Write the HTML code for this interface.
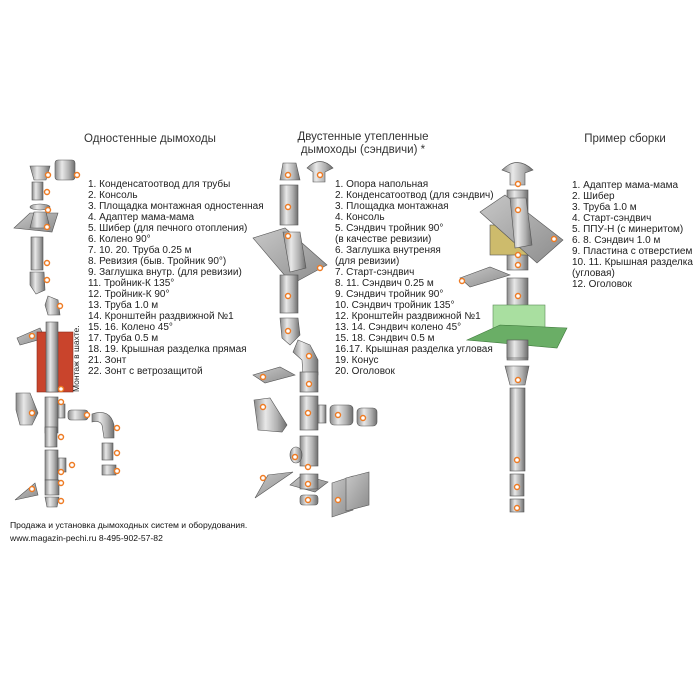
<!DOCTYPE html>
<html><head><meta charset="utf-8"><style>
html,body{margin:0;padding:0;background:#fff;width:700px;height:700px;overflow:hidden}
svg{display:block}
text{font-family:"Liberation Sans","DejaVu Sans",sans-serif;fill:#222}
.l{font-size:10px}
.h{font-size:11.5px;fill:#333}
.f{font-size:8.6px;fill:#111}
</style></head><body>
<svg width="700" height="700" viewBox="0 0 700 700" xmlns="http://www.w3.org/2000/svg">
<defs>
<linearGradient id="m" x1="0" x2="1" y1="0" y2="0">
<stop offset="0" stop-color="#8a8a8a"/><stop offset="0.35" stop-color="#e8e8e8"/><stop offset="0.7" stop-color="#b0b0b0"/><stop offset="1" stop-color="#6e6e6e"/></linearGradient>
<linearGradient id="p" x1="0" x2="1" y1="0" y2="1">
<stop offset="0" stop-color="#c8c8c8"/><stop offset="1" stop-color="#8c8c8c"/></linearGradient>
</defs>
<g stroke="#555" stroke-width="0.6">
<path d="M30 166 L50 166 L46 180 L34 180Z" fill="url(#m)"/>
<rect x="55" y="160" width="20" height="20" rx="3" fill="url(#m)"/>
<rect x="32" y="182" width="11" height="18" fill="url(#m)"/>
<ellipse cx="40" cy="207" rx="10" ry="3" fill="url(#m)"/>
<polygon points="14,228 30,213 58,213 52,232" fill="url(#p)"/>
<path d="M34 212 L46 212 L50 228 L30 228Z" fill="url(#m)"/>
<rect x="31" y="237" width="12" height="33" fill="url(#m)"/>
<path d="M30 272 L44 272 L45 290 L36 294 L30 285Z" fill="url(#m)"/>
<path d="M48 296 L58 300 L60 315 L48 315 L45 305Z" fill="url(#m)"/>
<polygon points="17,338 40,328 45,338 20,345" fill="url(#p)"/>
<rect x="37" y="332" width="36" height="60" fill="#c9442c" stroke="#8a2a1a"/>
<rect x="46" y="322" width="12" height="70" fill="url(#m)"/>
<path d="M16 393 L30 393 L38 413 L32 425 L20 425 L16 410Z" fill="url(#m)"/>
<rect x="45" y="397" width="13" height="36" fill="url(#m)"/>
<rect x="58" y="404" width="7" height="14" fill="url(#m)"/>
<rect x="68" y="410" width="20" height="10" rx="3" fill="url(#m)"/>
<path d="M92 414 Q110 408 114 425 L114 438 L104 438 L102 425 Q100 420 92 422Z" fill="url(#m)"/>
<rect x="45" y="427" width="12" height="20" fill="url(#m)"/>
<rect x="102" y="443" width="11" height="17" fill="url(#m)"/>
<rect x="102" y="465" width="14" height="10" fill="url(#m)"/>
<rect x="45" y="450" width="13" height="30" fill="url(#m)"/>
<rect x="58" y="458" width="8" height="14" fill="url(#m)"/>
<polygon points="15,500 35,483 38,495" fill="url(#p)"/>
<rect x="45" y="480" width="14" height="15" fill="url(#m)"/>
<path d="M45 497 L59 497 L57 507 L47 507Z" fill="url(#m)"/>
<path d="M283 163 L296 163 L300 180 L280 180Z" fill="url(#m)"/>
<path d="M307 168 Q320 155 333 168 L325 172 L325 182 L313 182 L313 172Z" fill="url(#m)"/>
<rect x="280" y="185" width="18" height="40" fill="url(#m)"/>
<polygon points="253,238 285,228 327,265 292,284" fill="url(#p)"/>
<path d="M283 232 L300 232 L306 268 L290 272Z" fill="url(#m)"/>
<rect x="280" y="275" width="18" height="38" fill="url(#m)"/>
<path d="M280 318 L298 318 L300 335 L290 345 L282 338Z" fill="url(#m)"/>
<path d="M298 340 L310 345 L318 360 L318 375 L303 375 L302 360 L293 352Z" fill="url(#m)"/>
<polygon points="253,375 280,367 295,375 265,383" fill="url(#p)"/>
<rect x="300" y="372" width="18" height="20" fill="url(#m)"/>
<path d="M254 400 L270 398 L287 425 L282 432 L258 430Z" fill="url(#m)"/>
<rect x="300" y="396" width="18" height="34" fill="url(#m)"/>
<rect x="318" y="405" width="8" height="18" fill="url(#m)"/>
<rect x="330" y="405" width="23" height="20" rx="4" fill="url(#m)"/>
<rect x="357" y="408" width="20" height="18" rx="4" fill="url(#m)"/>
<rect x="300" y="436" width="18" height="30" fill="url(#m)"/>
<ellipse cx="296" cy="455" rx="6" ry="8" fill="url(#m)"/>
<polygon points="255,498 268,475 293,472" fill="url(#p)"/>
<polygon points="290,485 302,475 328,482 315,492" fill="url(#p)"/>
<rect x="300" y="474" width="18" height="15" fill="url(#m)"/>
<rect x="300" y="495" width="18" height="10" rx="3" fill="url(#m)"/>
<polygon points="332,483 353,476 353,510 332,517" fill="url(#p)"/>
<polygon points="346,478 369,472 369,505 346,511" fill="url(#p)"/>
<path d="M502 170 Q517 155 533 170 L525 173 L525 185 L510 185 L510 173Z" fill="url(#m)"/>
<rect x="507" y="190" width="21" height="80" fill="url(#m)"/>
<rect x="490" y="225" width="45" height="30" fill="#cdbb6c"/>
<polygon points="480,212 505,195 563,240 537,263" fill="url(#p)"/>
<path d="M510 198 L526 198 L532 245 L515 248Z" fill="url(#m)"/>
<polygon points="460,278 490,267 510,275 470,287" fill="url(#p)"/>
<rect x="507" y="278" width="21" height="82" fill="url(#m)"/>
<rect x="493" y="305" width="52" height="32" fill="#a9dfa0" stroke="#5a8a55"/>
<polygon points="467,340 500,325 567,328 557,348" fill="#6aae66" stroke="#3f7a3c"/>
<rect x="507" y="340" width="21" height="18" fill="url(#m)"/>
<path d="M505 366 L529 366 L525 385 L510 385Z" fill="url(#m)"/>
<rect x="510" y="388" width="15" height="83" fill="url(#m)"/>
<rect x="510" y="474" width="14" height="22" fill="url(#m)"/>
<rect x="510" y="499" width="14" height="13" fill="url(#m)"/>
</g>
<g fill="#fff" stroke="#ee7a22" stroke-width="1.4">
<circle cx="48" cy="175" r="2.5"/><circle cx="77" cy="175" r="2.5"/><circle cx="47" cy="192" r="2.5"/><circle cx="48" cy="210" r="2.5"/><circle cx="47" cy="227" r="2.5"/><circle cx="47" cy="263" r="2.5"/><circle cx="47" cy="280" r="2.5"/><circle cx="60" cy="306" r="2.5"/><circle cx="32" cy="336" r="2.5"/><circle cx="61" cy="389" r="2.5"/><circle cx="32" cy="413" r="2.5"/><circle cx="61" cy="402" r="2.5"/><circle cx="87" cy="415" r="2.5"/><circle cx="117" cy="428" r="2.5"/><circle cx="61" cy="437" r="2.5"/><circle cx="117" cy="453" r="2.5"/><circle cx="117" cy="471" r="2.5"/><circle cx="72" cy="465" r="2.5"/><circle cx="61" cy="472" r="2.5"/><circle cx="61" cy="483" r="2.5"/><circle cx="32" cy="489" r="2.5"/><circle cx="61" cy="501" r="2.5"/>
<circle cx="288" cy="175" r="2.5"/><circle cx="320" cy="175" r="2.5"/><circle cx="288" cy="207" r="2.5"/><circle cx="288" cy="236" r="2.5"/><circle cx="320" cy="268" r="2.5"/><circle cx="288" cy="296" r="2.5"/><circle cx="288" cy="331" r="2.5"/><circle cx="309" cy="356" r="2.5"/><circle cx="263" cy="377" r="2.5"/><circle cx="309" cy="384" r="2.5"/><circle cx="263" cy="407" r="2.5"/><circle cx="308" cy="413" r="2.5"/><circle cx="338" cy="415" r="2.5"/><circle cx="363" cy="418" r="2.5"/><circle cx="295" cy="457" r="2.5"/><circle cx="308" cy="467" r="2.5"/><circle cx="263" cy="478" r="2.5"/><circle cx="308" cy="484" r="2.5"/><circle cx="308" cy="500" r="2.5"/><circle cx="338" cy="500" r="2.5"/>
<circle cx="518" cy="184" r="2.5"/><circle cx="518" cy="210" r="2.5"/><circle cx="554" cy="239" r="2.5"/><circle cx="518" cy="255" r="2.5"/><circle cx="518" cy="265" r="2.5"/><circle cx="462" cy="281" r="2.5"/><circle cx="518" cy="296" r="2.5"/><circle cx="518" cy="380" r="2.5"/><circle cx="517" cy="460" r="2.5"/><circle cx="517" cy="487" r="2.5"/><circle cx="517" cy="508" r="2.5"/>
</g>
<text x="79" y="392" transform="rotate(-90 79 392)" style="font-size:8.5px">Монтаж в шахте.</text>
<text class="h" x="150" y="142" text-anchor="middle">Одностенные дымоходы</text>
<text class="h" x="363" y="140" text-anchor="middle">Двустенные утепленные</text>
<text class="h" x="363" y="153" text-anchor="middle">дымоходы (сэндвичи) *</text>
<text class="h" x="625" y="142" text-anchor="middle">Пример сборки</text>
<text class="l" x="88" y="187">1. Конденсатоотвод для трубы</text>
<text class="l" x="88" y="198">2. Консоль</text>
<text class="l" x="88" y="209">3. Площадка монтажная одностенная</text>
<text class="l" x="88" y="220">4. Адаптер мама-мама</text>
<text class="l" x="88" y="231">5. Шибер (для печного отопления)</text>
<text class="l" x="88" y="242">6. Колено 90°</text>
<text class="l" x="88" y="253">7. 10. 20. Труба 0.25 м</text>
<text class="l" x="88" y="264">8. Ревизия (быв. Тройник 90°)</text>
<text class="l" x="88" y="275">9. Заглушка внутр. (для ревизии)</text>
<text class="l" x="88" y="286">11. Тройник-К 135°</text>
<text class="l" x="88" y="297">12. Тройник-К 90°</text>
<text class="l" x="88" y="308">13. Труба 1.0 м</text>
<text class="l" x="88" y="319">14. Кронштейн раздвижной №1</text>
<text class="l" x="88" y="330">15. 16. Колено 45°</text>
<text class="l" x="88" y="341">17. Труба 0.5 м</text>
<text class="l" x="88" y="352">18. 19. Крышная разделка прямая</text>
<text class="l" x="88" y="363">21. Зонт</text>
<text class="l" x="88" y="374">22. Зонт с ветрозащитой</text>
<text class="l" x="335" y="187">1. Опора напольная</text>
<text class="l" x="335" y="198">2. Конденсатоотвод (для сэндвич)</text>
<text class="l" x="335" y="209">3. Площадка монтажная</text>
<text class="l" x="335" y="220">4. Консоль</text>
<text class="l" x="335" y="231">5. Сэндвич тройник 90°</text>
<text class="l" x="335" y="242">(в качестве ревизии)</text>
<text class="l" x="335" y="253">6. Заглушка внутреняя</text>
<text class="l" x="335" y="264">(для ревизии)</text>
<text class="l" x="335" y="275">7. Старт-сэндвич</text>
<text class="l" x="335" y="286">8. 11. Сэндвич 0.25 м</text>
<text class="l" x="335" y="297">9. Сэндвич тройник 90°</text>
<text class="l" x="335" y="308">10. Сэндвич тройник 135°</text>
<text class="l" x="335" y="319">12. Кронштейн раздвижной №1</text>
<text class="l" x="335" y="330">13. 14. Сэндвич колено 45°</text>
<text class="l" x="335" y="341">15. 18. Сэндвич 0.5 м</text>
<text class="l" x="335" y="352">16.17. Крышная разделка угловая</text>
<text class="l" x="335" y="363">19. Конус</text>
<text class="l" x="335" y="374">20. Оголовок</text>
<text class="l" x="572" y="188">1. Адаптер мама-мама</text>
<text class="l" x="572" y="199">2. Шибер</text>
<text class="l" x="572" y="210">3. Труба 1.0 м</text>
<text class="l" x="572" y="221">4. Старт-сэндвич</text>
<text class="l" x="572" y="232">5. ППУ-Н (с минеритом)</text>
<text class="l" x="572" y="243">6. 8. Сэндвич 1.0 м</text>
<text class="l" x="572" y="254">9. Пластина с отверстием</text>
<text class="l" x="572" y="265">10. 11. Крышная разделка</text>
<text class="l" x="572" y="276">(угловая)</text>
<text class="l" x="572" y="287">12. Оголовок</text>
<text class="f" x="10" y="528">Продажа и установка дымоходных систем и оборудования.</text>
<text class="f" x="10" y="541">www.magazin-pechi.ru   8-495-902-57-82</text>
</svg>
</body></html>
